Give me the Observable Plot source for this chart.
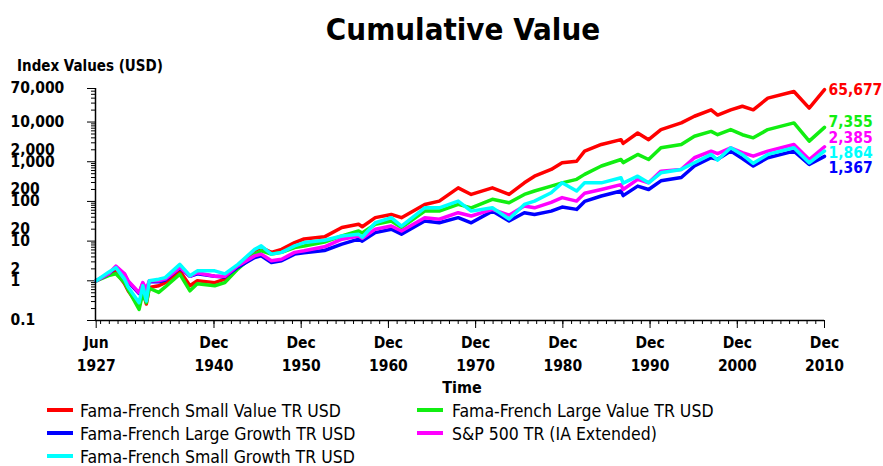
<!DOCTYPE html>
<html>
<head>
<meta charset="utf-8">
<script src="https://cdn.jsdelivr.net/npm/d3@7"></script>
<script src="https://cdn.jsdelivr.net/npm/@observablehq/plot@0.6"></script>
<style>
  html, body { margin: 0; padding: 0; background: #fff; }
  #wrap { position: relative; width: 883px; height: 466px; overflow: hidden; }
  #overlay { position: absolute; left: 0; top: 0; pointer-events: none; }
  .cond { font-family: "DejaVu Sans Condensed", "DejaVu Sans", sans-serif; font-stretch: condensed; }
</style>
</head>
<body>
<div id="wrap"></div>
<script>
// ---------- data ----------
const seriesNames = [
  "Fama-French Small Value TR USD",
  "Fama-French Large Value TR USD",
  "Fama-French Large Growth TR USD",
  "S&P 500 TR (IA Extended)",
  "Fama-French Small Growth TR USD"
];
const seriesColors = ["#ff0000", "#11ee11", "#0000ff", "#ff00ff", "#00ffff"];

const dates = [
  "1927-06-30","1928-11-30","1929-09-30","1930-09-30","1931-02-28","1932-05-31","1932-10-31",
  "1933-03-31","1933-07-31","1934-08-31","1935-05-31","1937-01-31","1938-03-31","1939-01-31",
  "1941-01-31","1942-03-31","1943-09-30","1945-08-31","1946-05-31","1947-07-31","1948-09-30",
  "1950-03-31","1951-04-30","1953-08-31","1955-08-31","1957-07-31","1957-12-31","1959-06-30",
  "1961-04-30","1962-06-30","1965-02-28","1966-10-31","1968-12-31","1970-06-30","1972-11-30",
  "1974-10-31","1976-07-31","1977-09-30","1979-08-31","1980-11-30","1982-07-31","1983-06-30",
  "1985-05-31","1987-08-31","1987-11-30","1989-07-31","1990-10-31","1992-03-31","1994-07-31",
  "1996-01-31","1997-12-31","1998-09-30","2000-03-31","2001-07-31","2002-10-31","2004-06-30",
  "2007-06-30","2009-03-31","2010-12-31"
];
const smallValue = [
  1,1.45,1.7,0.85,0.56,0.23,0.56,0.26,0.68,0.75,0.9,1.78,0.75,1.0,0.9,1.1,2.4,5.7,6.9,5.2,6.2,
  9.2,11.3,12.8,22,26.6,23,39,47,39,84,102,220,150,220,150,294,433,640,940,1030,1850,2720,3600,
  2900,5300,3600,6450,9500,14000,20300,15000,20300,25000,20300,40000,59000,22500,65677
];
const largeValue = [
  1,1.35,1.5,0.9,0.6,0.19,0.5,0.28,0.65,0.51,0.7,1.47,0.56,0.84,0.75,0.9,2.0,4.7,5.7,4.7,5.2,
  6.9,7.5,9.5,13.5,18,16,26.6,32,22,57,57,84,69,113,93,150,183,243,294,360,480,780,1140,
  950,1530,1140,2250,2720,4400,5800,4800,6450,4800,4000,6450,9500,3300,7355
];
const largeGrowth = [
  1,1.5,2.2,1.45,0.95,0.48,0.85,0.55,0.95,0.95,1.05,2.1,1.3,1.5,1.3,1.25,2.2,3.85,4.25,2.9,3.2,
  4.7,5.1,5.8,8.4,11.2,10,16.4,20,15,32,29,39,29,57,32,52,47,57,72,63,100,137,183,
  140,243,200,330,400,780,1260,1150,1850,1200,780,1260,1850,855,1367
];
const sp500 = [
  1,1.5,2.35,1.5,1.0,0.5,0.9,0.6,1.0,1.0,1.1,2.16,1.3,1.6,1.3,1.3,2.4,4.25,4.7,3.2,3.5,
  5.2,5.7,7.2,11.2,13.5,11.8,20,24,18,39,35.6,52,43,63,45,77,69,95,125,102,160,200,265,
  200,360,294,580,640,1260,1850,1600,2250,1700,1380,1850,2720,1140,2385
];
const smallGrowth = [
  1,1.65,2.15,1.1,0.7,0.28,0.75,0.31,1.0,1.1,1.2,2.6,1.34,1.78,1.78,1.5,2.6,6.2,7.6,4.7,5.2,
  7.6,9.2,10.5,13.5,14.9,12.5,29,39,24,69,69,102,57,69,36,84,102,165,294,183,294,294,395,
  290,433,294,527,640,940,1530,1100,2250,1500,910,1530,2250,940,1864
];

const yTickValues = [0.1, 1, 2, 10, 20, 100, 200, 1000, 2000, 10000, 70000];
const yMajorTicks = [0.1, 1, 10, 100, 1000, 10000, 70000];
const xTickDates = ["1927-06-30","1940-12-31","1950-12-31","1960-12-31","1970-12-31",
                    "1980-12-31","1990-12-31","2000-12-31","2010-12-31"];
const xDomain = ["1927-06-01", "2010-12-31"];

// ---------- build ----------
const parse = d3.utcParse("%Y-%m-%d");
const allSeries = [smallValue, largeValue, largeGrowth, sp500, smallGrowth];
const rows = [];
allSeries.forEach((vals, i) => {
  vals.forEach((v, j) => rows.push({date: parse(dates[j]), value: v, series: seriesNames[i]}));
});

// end labels, dodged in log space so they do not overlap
const gap = 0.385; // decades between stacked labels
const ends = allSeries.map((vals, i) => ({
  series: seriesNames[i], value: vals[vals.length - 1],
  lv: Math.log10(vals[vals.length - 1]), date: parse(dates[dates.length - 1])
})).sort((a, b) => b.lv - a.lv);
let groups = [];
for (const e of ends) {
  groups.push({items: [e]});
  const place = g => {
    const c = d3.mean(g.items, d => d.lv);
    g.items.forEach((d, k) => d.pos = c + ((g.items.length - 1) / 2 - k) * gap);
  };
  place(groups[groups.length - 1]);
  while (groups.length > 1) {
    const a = groups[groups.length - 2], b = groups[groups.length - 1];
    if (a.items[a.items.length - 1].pos - b.items[0].pos < gap) {
      const m = {items: a.items.concat(b.items)};
      place(m);
      groups.splice(groups.length - 2, 2, m);
    } else break;
  }
}
ends.forEach(d => d.labelValue = Math.pow(10, d.pos));

const minorY = [];
for (let e = -1; e <= 4; e++) for (let m = 2; m <= 9; m++) {
  const v = m * Math.pow(10, e);
  if (v < 70000) minorY.push(v);
}
const yearTicks = d3.range(1927, 2011).map(y => new Date(Date.UTC(y, 11, 31)));
const xMajor = xTickDates.map(parse);
const fmtNum = d3.format(",");
const fmtDate = d3.utcFormat("%b\n%Y");

const plot = Plot.plot({
  width: 883,
  height: 466,
  marginLeft: 95,
  marginRight: 59,
  marginTop: 88,
  marginBottom: 146,
  style: {
    fontFamily: "'DejaVu Sans Condensed', 'DejaVu Sans', sans-serif",
    fontStretch: "condensed",
    fontSize: "15.5px",
    fontWeight: "bold",
    background: "transparent",
    color: "black",
    overflow: "visible"
  },
  x: {type: "utc", domain: xDomain.map(parse)},
  y: {type: "log", domain: [0.1, 70000]},
  color: {domain: seriesNames, range: seriesColors},
  marks: [
    Plot.axisY(minorY, {anchor: "left", tickSize: 4, tickFormat: () => "", stroke: "black"}),
    Plot.axisY(yMajorTicks, {anchor: "left", tickSize: 8, tickFormat: () => "", stroke: "black"}),
    Plot.axisX(yearTicks, {anchor: "bottom", tickSize: 4, tickFormat: () => "", stroke: "black"}),
    Plot.axisX(xMajor, {anchor: "bottom", tickSize: 8, tickFormat: () => "", stroke: "black"}),
    Plot.text(yTickValues, {y: d => d, frameAnchor: "left", dx: -85, textAnchor: "start",
      text: d => fmtNum(d), fill: "black"}),
    Plot.text(xMajor, {x: d => d, frameAnchor: "bottom", dy: 11, lineAnchor: "top",
      lineHeight: 1.5, text: d => fmtDate(d), fill: "black"}),
    Plot.line(rows, {x: "date", y: "value", z: "series", stroke: "series",
      strokeWidth: 3.5, strokeLinejoin: "round", strokeLinecap: "round"}),
    Plot.ruleX([parse(xDomain[0])], {stroke: "black", strokeWidth: 1.5}),
    Plot.ruleY([0.1], {stroke: "black", strokeWidth: 1.5}),
    Plot.text(ends, {x: "date", y: "labelValue", text: d => fmtNum(d.value), fill: "series",
      textAnchor: "start", dx: 4})
  ]
});
const wrap = document.getElementById("wrap");
wrap.appendChild(plot);

// ---------- titles & legend overlay ----------
const ns = "http://www.w3.org/2000/svg";
const ov = document.createElementNS(ns, "svg");
ov.setAttribute("id", "overlay");
ov.setAttribute("width", 883);
ov.setAttribute("height", 466);
ov.setAttribute("class", "cond");
function txt(x, y, s, size, weight, anchor) {
  const t = document.createElementNS(ns, "text");
  t.setAttribute("x", x); t.setAttribute("y", y);
  t.setAttribute("font-size", size); t.setAttribute("font-weight", weight);
  t.setAttribute("text-anchor", anchor || "start");
  t.setAttribute("fill", "black");
  t.textContent = s;
  ov.appendChild(t);
}
txt(463, 40, "Cumulative Value", 31, "bold", "middle");
txt(17, 71, "Index Values (USD)", 15, "bold");
txt(462, 393, "Time", 16, "bold", "middle");
seriesNames.forEach((name, i) => {
  const col = i % 2, row = Math.floor(i / 2);
  const sx = [47, 417][col], tx = [80, 452][col];
  const sy = 410 + row * 23;
  const l = document.createElementNS(ns, "line");
  l.setAttribute("x1", sx); l.setAttribute("x2", sx + 26);
  l.setAttribute("y1", sy); l.setAttribute("y2", sy);
  l.setAttribute("stroke", seriesColors[i]); l.setAttribute("stroke-width", 4);
  ov.appendChild(l);
  txt(tx, sy + 6.5, name, 17.5, "normal");
});
wrap.appendChild(ov);
</script>
</body>
</html>
